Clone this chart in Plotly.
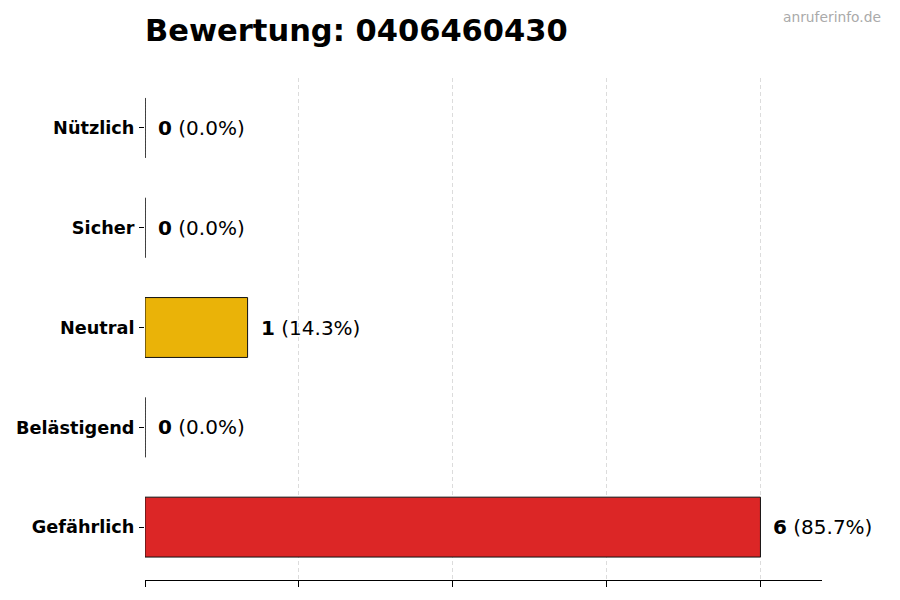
import plotly.graph_objects as go

categories = ["Nützlich", "Sicher", "Neutral", "Belästigend", "Gefährlich"]
values = [0, 0, 1, 0, 6]
colors = ["#22C55E", "#3B82F6", "#EAB308", "#F97316", "#DC2626"]
title_text = "Bewertung: 0406460430"
watermark = "anruferinfo.de"

total = sum(values)
n = len(categories)
ypos = [n - 1 - i for i in range(n)]  # top to bottom

fig = go.Figure()
fig.add_trace(go.Bar(
    x=values, y=ypos, orientation="h",
    marker=dict(color=colors, line=dict(color="#111111", width=1)),
    width=0.6, showlegend=False, hoverinfo="skip",
))

# thin edge for zero-valued bars
zx, zy = [], []
for v, y in zip(values, ypos):
    if v == 0:
        zx += [0, 0, None]
        zy += [y - 0.3, y + 0.3, None]
fig.add_trace(go.Scatter(x=zx, y=zy, mode="lines",
                         line=dict(color="#333333", width=1, dash="2px,1px"),
                         showlegend=False, hoverinfo="skip"))

for v, y in zip(values, ypos):
    pct = 100.0 * v / total if total else 0
    fig.add_annotation(x=v, y=y, xref="x", yref="y",
                       text=f"<b>{v}</b> ({pct:.1f}%)",
                       showarrow=False, xanchor="left", xshift=11,
                       font=dict(family="DejaVu Sans", size=20, color="#000000"))

fig.update_layout(
    width=900, height=600,
    margin=dict(l=145, r=78, t=78, b=20, autoexpand=False),
    plot_bgcolor="white", paper_bgcolor="white",
    font=dict(family="DejaVu Sans", color="#000000"),
    title=dict(text=f"<b>{title_text}</b>", x=145/900, xanchor="left",
               y=1 - 30/600, yanchor="middle",
               font=dict(family="DejaVu Sans", size=30.5, color="#000000")),
    bargap=0.4,
)
fig.add_annotation(text=watermark, xref="paper", yref="paper",
                   x=1, y=1, xshift=61, yshift=61, xanchor="right", yanchor="middle",
                   showarrow=False, font=dict(family="DejaVu Sans", size=13.8, color="#AAAAAA"))

fig.update_xaxes(range=[0, 6.6], tick0=0, dtick=1.5, showticklabels=False,
                 showgrid=True, gridcolor="#DCDCDC", griddash="4px,3px", gridwidth=1,
                 showline=True, linecolor="#000000", linewidth=1,
                 ticks="outside", ticklen=6, tickcolor="#000000", zeroline=False)
fig.update_yaxes(range=[-0.53, 4.5], tickvals=ypos, ticktext=[f"<b>{c}</b>" for c in categories],
                 showgrid=False, showline=False, zeroline=False,
                 ticks="outside", ticklen=5, tickcolor="#000000", ticklabelstandoff=1,
                 tickfont=dict(family="DejaVu Sans", size=17.7, color="#000000"))

fig.write_html("out.html", config={"displayModeBar": False},
               post_script="document.body.style.margin='0';document.body.style.overflow='hidden';")
